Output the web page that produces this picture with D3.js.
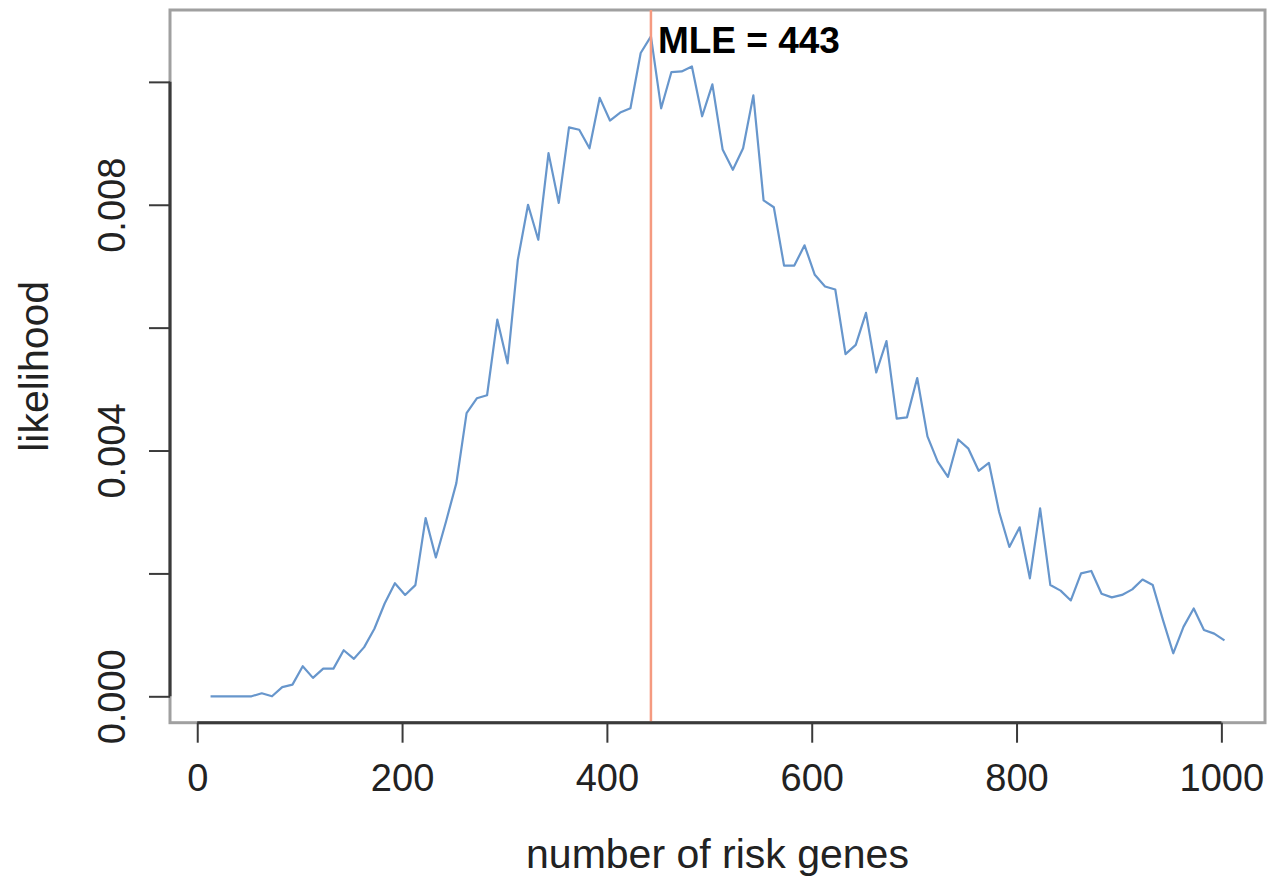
<!DOCTYPE html>
<html>
<head>
<meta charset="utf-8">
<script src="https://cdn.jsdelivr.net/npm/d3@7"></script>
<style>
  html, body { margin: 0; padding: 0; background: #ffffff; }
  svg { display: block; }
  text { font-family: "Liberation Sans", Arial, Helvetica, sans-serif; }
</style>
</head>
<body>
<svg id="chart" width="1268" height="879"></svg>
<script>
// Number of risk genes evaluated
const nGenes = [
  13, 23, 33, 43, 53, 63, 73, 83, 93, 103,
  113, 123, 133, 143, 153, 163, 173, 183, 193, 203,
  213, 223, 233, 243, 253, 263, 273, 283, 293, 303,
  313, 323, 333, 343, 353, 363, 373, 383, 393, 403,
  413, 423, 433, 443, 453, 463, 473, 483, 493, 503,
  513, 523, 533, 543, 553, 563, 573, 583, 593, 603,
  613, 623, 633, 643, 653, 663, 673, 683, 693, 703,
  713, 723, 733, 743, 753, 763, 773, 783, 793, 803,
  813, 823, 833, 843, 853, 863, 873, 883, 893, 903,
  913, 923, 933, 943, 953, 963, 973, 983, 993, 1003
];

// Likelihood at each gene count
const likelihood = [
  0.00000, 0.00000, 0.00000, 0.00000, 0.00000, 0.00005, 0.00000, 0.00015, 0.00019, 0.00049,
  0.00030, 0.00045, 0.00045, 0.00075, 0.00061, 0.00080, 0.00110, 0.00151, 0.00184, 0.00165,
  0.00181, 0.00290, 0.00226, 0.00285, 0.00347, 0.00461, 0.00485, 0.00490, 0.00613, 0.00542,
  0.00710, 0.00800, 0.00743, 0.00884, 0.00803, 0.00926, 0.00922, 0.00892, 0.00974, 0.00937,
  0.00950, 0.00957, 0.01047, 0.01074, 0.00957, 0.01016, 0.01017, 0.01025, 0.00944, 0.00996,
  0.00890, 0.00857, 0.00892, 0.00978, 0.00807, 0.00796, 0.00701, 0.00701, 0.00734, 0.00686,
  0.00667, 0.00662, 0.00557, 0.00572, 0.00624, 0.00527, 0.00578, 0.00452, 0.00454, 0.00518,
  0.00423, 0.00382, 0.00357, 0.00418, 0.00403, 0.00367, 0.00380, 0.00300, 0.00243, 0.00275,
  0.00192, 0.00306, 0.00181, 0.00172, 0.00156, 0.00200, 0.00204, 0.00167, 0.00161, 0.00165,
  0.00174, 0.00190, 0.00181, 0.00124, 0.00070, 0.00113, 0.00143, 0.00108, 0.00102, 0.00091
];

const mle = 443;

const xTicks = [0, 200, 400, 600, 800, 1000];
const yTicks = [0, 0.002, 0.004, 0.006, 0.008, 0.010];
const yTickLabels = ["0.000", "", "0.004", "", "0.008", ""];

const xLabel = "number of risk genes";
const yLabel = "likelihood";

// Plot region
const box = { left: 170, right: 1265, top: 10, bottom: 722.7 };

// Data ranges padded by 4% on each side
function padded(ext) {
  const p = 0.04 * (ext[1] - ext[0]);
  return [ext[0] - p, ext[1] + p];
}

const x = d3.scaleLinear()
  .domain(padded(d3.extent(nGenes)))
  .range([box.left, box.right]);

const y = d3.scaleLinear()
  .domain(padded([Math.min(0, d3.min(likelihood)), d3.max(likelihood)]))
  .range([box.bottom, box.top]);

const svg = d3.select("#chart");

// Frame around the plot region
svg.append("rect")
  .attr("x", box.left)
  .attr("y", box.top)
  .attr("width", box.right - box.left)
  .attr("height", box.bottom - box.top)
  .attr("fill", "none")
  .attr("stroke", "#a0a0a0")
  .attr("stroke-width", 3);

// Likelihood curve
const line = d3.line()
  .x((d, i) => x(nGenes[i]))
  .y(d => y(d));

svg.append("path")
  .datum(likelihood)
  .attr("d", line)
  .attr("fill", "none")
  .attr("stroke", "#6796cc")
  .attr("stroke-width", 2.2)
  .attr("stroke-linejoin", "round");

// Vertical marker at the maximum-likelihood estimate
svg.append("line")
  .attr("x1", x(mle)).attr("x2", x(mle))
  .attr("y1", box.top).attr("y2", box.bottom)
  .attr("stroke", "#f59a80")
  .attr("stroke-width", 2.5);

svg.append("text")
  .attr("x", x(mle) + 7)
  .attr("y", 53)
  .attr("font-size", 37)
  .attr("font-weight", "bold")
  .attr("fill", "#000")
  .text("MLE = " + mle);

// Bottom axis
const gx = svg.append("g")
  .attr("transform", `translate(0,${box.bottom})`)
  .call(d3.axisBottom(x).tickValues(xTicks).tickSize(20).tickFormat(d3.format("d")));
gx.select(".domain").remove();
gx.selectAll(".tick line").attr("stroke", "#3a3a3a").attr("stroke-width", 2);
gx.selectAll(".tick text")
  .attr("y", 68).attr("dy", 0)
  .attr("font-size", 38)
  .attr("fill", "#222");
gx.append("line")
  .attr("x1", x(xTicks[0])).attr("x2", x(xTicks[xTicks.length - 1]))
  .attr("y1", 0).attr("y2", 0)
  .attr("stroke", "#3a3a3a").attr("stroke-width", 3);

// Left axis
const gy = svg.append("g")
  .attr("transform", `translate(${box.left},0)`)
  .call(d3.axisLeft(y).tickValues(yTicks).tickSize(21)
    .tickFormat((d, i) => yTickLabels[i]));
gy.select(".domain").remove();
gy.selectAll(".tick line").attr("stroke", "#3a3a3a").attr("stroke-width", 2);
gy.selectAll(".tick text")
  .attr("x", 0).attr("y", -45).attr("dy", 0)
  .attr("text-anchor", "middle")
  .attr("transform", "rotate(-90)")
  .attr("font-size", 38)
  .attr("fill", "#222");
gy.append("line")
  .attr("x1", 0).attr("x2", 0)
  .attr("y1", y(yTicks[0])).attr("y2", y(yTicks[yTicks.length - 1]))
  .attr("stroke", "#3a3a3a").attr("stroke-width", 3);

// Axis titles
svg.append("text")
  .attr("x", (box.left + box.right) / 2)
  .attr("y", 868)
  .attr("text-anchor", "middle")
  .attr("font-size", 41)
  .attr("fill", "#222")
  .text(xLabel);

svg.append("text")
  .attr("transform", `translate(48,${(box.top + box.bottom) / 2}) rotate(-90)`)
  .attr("text-anchor", "middle")
  .attr("font-size", 41)
  .attr("fill", "#222")
  .text(yLabel);
</script>
</body>
</html>
